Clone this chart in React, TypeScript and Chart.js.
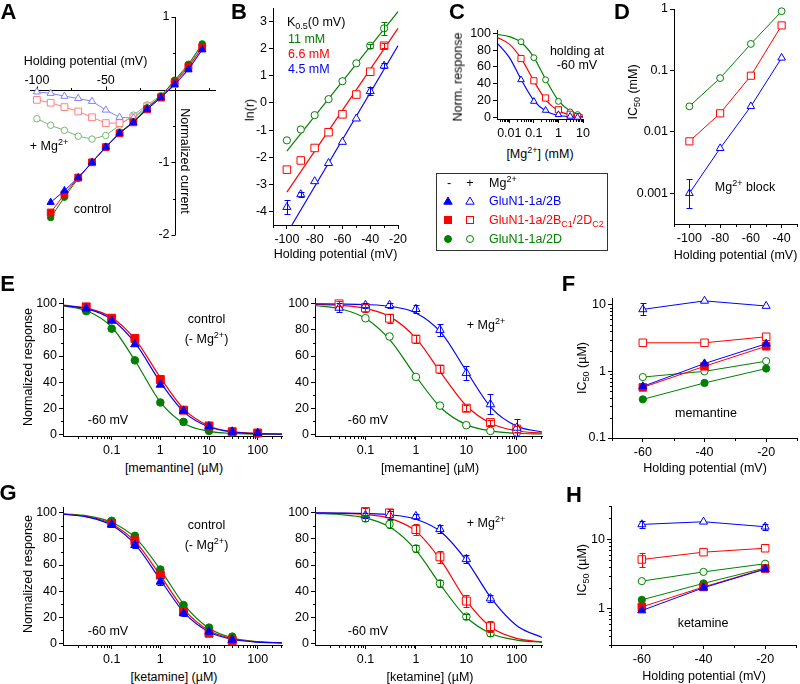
import React, { useEffect, useRef } from 'react';
import { Chart, registerables } from 'chart.js';

Chart.register(...registerables);

const FONT = "'Liberation Sans', Arial, Helvetica, sans-serif";
const FS = 12.5;
const BLUE = '#0000ff';
const RED = '#ff0000';
const GREEN = '#008000';
const LBLUE = '#8080ff';
const LRED = '#ff8080';
const LGREEN = '#74b874';

/* ---------------- Panel A : I-V ---------------- */
const A_V_CTRL = [-90, -80, -70, -60, -50, -40, -30, -20, -10, 0, 10, 20];
const A_2B_CTRL = [-1.55, -1.39, -1.21, -1.0, -0.79, -0.6, -0.45, -0.27, -0.11, 0.07, 0.28, 0.55];
const A_2BD_CTRL = [-1.69, -1.44, -1.21, -1.0, -0.79, -0.6, -0.45, -0.27, -0.11, 0.1, 0.32, 0.58];
const A_2D_CTRL = [-1.76, -1.48, -1.22, -1.0, -0.79, -0.59, -0.44, -0.25, -0.09, 0.13, 0.35, 0.63];
const A_V_MG = [-100, -90, -80, -70, -60, -50, -40, -30, -20, -10, 0, 10, 20];
const A_2B_MG = [-0.03, -0.05, -0.09, -0.12, -0.16, -0.28, -0.38, -0.39, -0.25, -0.1, 0.06, 0.27, 0.55];
const A_2BD_MG = [-0.14, -0.18, -0.24, -0.3, -0.38, -0.46, -0.46, -0.38, -0.23, -0.1, 0.09, 0.3, 0.58];
const A_2D_MG = [-0.4, -0.49, -0.56, -0.64, -0.68, -0.63, -0.49, -0.35, -0.21, -0.08, 0.12, 0.33, 0.62];
const A_X_TICKS = [-100, -50];
const A_X_LABELS = ['-100', '-50'];
const A_X_MINOR = [-75, -25, 25];
const A_Y_TICKS = [1, -1, -2];
const A_Y_LABELS = ['1', '-1', '-2'];
const A_Y_MINOR = [0.5, -0.5, -1.5];

/* ---------------- Panel B : ln(r) ---------------- */
const B_V = [-100, -90, -80, -70, -60, -50, -40, -30];
const B_2D = [-1.38, -0.98, -0.45, 0.14, 0.8, 1.46, 2.11, 2.75];
const B_2D_ERR = [0, 0, 0, 0, 0, 0, 0.08, 0.25];
const B_2BD = [-2.46, -2.12, -1.66, -1.08, -0.42, 0.31, 1.15, 2.11];
const B_2BD_ERR = [0, 0, 0, 0, 0, 0, 0, 0.1];
const B_2B = [-3.84, -3.37, -2.89, -2.22, -1.44, -0.58, 0.43, 1.37];
const B_2B_ERR = [0.25, 0.1, 0, 0, 0, 0, 0.15, 0.1];
const B_FIT_2D_V = [-100, -20];
const B_FIT_2D = [-1.78, 3.37];
const B_FIT_2BD_V = [-100, -20];
const B_FIT_2BD = [-3.29, 2.75];
const B_FIT_2B_V = [-96.4, -20];
const B_FIT_2B = [-4.5, 2.11];
const B_X_TICKS = [-100, -80, -60, -40, -20];
const B_X_LABELS = ['-100', '-80', '-60', '-40', '-20'];
const B_Y_TICKS = [-4, -3, -2, -1, 0, 1, 2, 3];
const B_Y_LABELS = ['-4', '-3', '-2', '-1', '0', '1', '2', '3'];

/* ---------------- Panel C : Mg dose-response ---------------- */
const C_X = [0.03, 0.1, 0.3, 1, 3, 6];
const C_2D = [90, 71, 44.7, 19, 6.4, 3.2];
const C_2BD = [70, 43.5, 23, 9, 3.6, 0.8];
const C_2B = [44.7, 19, 8.3, 3.2, 1.2, 0];
const C_FIT_X = [0.00316, 0.01, 0.0316, 0.1, 0.316, 1, 3.16, 10];
const C_2D_FIT = [98.75, 96.15, 88.77, 71.43, 44.15, 20, 7.33, 2.44];
const C_2BD_FIT = [95.29, 87.14, 69.41, 43.2, 20.3, 7.86, 2.78, 0.95];
const C_2B_FIT = [88.77, 71.43, 44.15, 20, 7.33, 2.44, 0.78, 0.25];
const C_X_TICKS = [0.01, 0.1, 1, 10];
const C_X_LABELS = ['0.01', '0.1', '1', '10'];
const C_Y_TICKS = [0, 20, 40, 60, 80, 100];
const C_Y_LABELS = ['0', '20', '40', '60', '80', '100'];

/* ---------------- Panel D : Mg IC50 ---------------- */
const D_V = [-100, -80, -60, -40];
const D_2D = [0.026, 0.075, 0.27, 0.92];
const D_2BD = [0.007, 0.02, 0.082, 0.54];
const D_2B = [0.001, 0.0054, 0.026, 0.16];
const D_2B_LO = [0.00057, null, null, null];
const D_2B_HI = [0.0017, null, null, null];
const D_X_TICKS = [-100, -80, -60, -40];
const D_X_LABELS = ['-100', '-80', '-60', '-40'];
const D_Y_TICKS = [0.001, 0.01, 0.1, 1];
const D_Y_LABELS = ['0.001', '0.01', '0.1', '1'];

/* ---------------- Panel E : memantine ---------------- */
const E_X = [0.03, 0.1, 0.3, 1, 3, 10, 30, 100];
const E_CTRL_2B = [96.4, 87, 69, 38, 18, 6, 2, 1];
const E_CTRL_2BD = [97.7, 89, 73.5, 42, 18.5, 6.4, 2, 1];
const E_CTRL_2D = [94.4, 81, 56.7, 24.4, 9.5, 2.6, 1.3, 0.6];
const E_MG_2B = [97, 99, 99, 96, 80, 47, 23, 5];
const E_MG_2B_ERR = [3.5, 2, 2, 3, 4.4, 5, 7.7, 6.4];
const E_MG_2BD = [100, 97, 89, 73, 50, 20, 9, 4];
const E_MG_2BD_ERR = [2, 3, 3.5, 3, 3, 2.5, 2, 2];
const E_MG_2D = [98.5, 89, 75, 44, 22, 7, 2.6, 1.3];
const FIT_X = [0.01, 0.0316, 0.1, 0.316, 1, 3.16, 10, 31.6, 100, 316];
const E_CTRL_2B_FIT = [98.82, 96.16, 88.2, 69.07, 40.0, 16.6, 5.61, 1.74, 0.53, 0.16];
const E_CTRL_2BD_FIT = [98.98, 96.67, 89.64, 72.08, 43.52, 18.71, 6.42, 2.01, 0.61, 0.18];
const E_CTRL_2D_FIT = [98.5, 94.58, 82.28, 55.27, 24.75, 8.04, 2.28, 0.62, 0.16, 0.04];
const E_MG_2B_FIT = [99.96, 99.86, 99.47, 98.04, 93.03, 78.0, 48.56, 20.1, 6.27, 1.75];
const E_MG_2BD_FIT = [99.64, 98.88, 96.55, 89.85, 73.69, 46.95, 21.87, 8.13, 2.72, 0.88];
const E_MG_2D_FIT = [98.77, 96.2, 88.89, 71.68, 44.44, 20.19, 7.41, 2.47, 0.79, 0.25];

/* ---------------- Panel G : ketamine ---------------- */
const G_X = [0.1, 0.3, 1, 3, 10, 30];
const G_CTRL_2B = [91, 75.3, 47.2, 23, 8.9, 2.6];
const G_CTRL_2B_ERR = [1.5, 2.5, 2.5, 2, 0, 0];
const G_CTRL_2BD = [91.8, 78.6, 52.3, 24.2, 7.7, 2];
const G_CTRL_2D = [93.9, 82.4, 56.6, 29.3, 12, 5.1];
const G_MG_2B = [98.2, 98.2, 97.4, 87.5, 64.5, 34.4];
const G_MG_2B_ERR = [2, 3, 2, 3, 3, 3];
const G_MG_2BD = [101, 100, 87.2, 66.3, 32.4, 12.8];
const G_MG_2BD_ERR = [3, 3, 4.5, 4.5, 4.7, 4];
const G_MG_2D = [95.7, 91.3, 72.7, 45.9, 20.4, 7.7];
const G_MG_2D_ERR = [2, 3, 3, 3, 2, 2];
const G_CTRL_2B_FIT = [98.96, 96.78, 90.48, 75.04, 48.73, 23.11, 8.68, 2.92, 0.94, 0.3];
const G_CTRL_2BD_FIT = [99.08, 97.15, 91.52, 77.33, 51.9, 25.44, 9.74, 3.3, 1.07, 0.34];
const G_CTRL_2D_FIT = [99.24, 97.63, 92.86, 80.43, 56.52, 29.14, 11.51, 3.95, 1.28, 0.41];
const G_MG_2B_FIT = [99.96, 99.86, 99.55, 98.5, 95.15, 85.4, 63.57, 34.21, 13.44, 4.43];
const G_MG_2BD_FIT = [99.9, 99.64, 98.72, 95.61, 86.0, 63.37, 32.77, 12.08, 3.73, 1.08];
const G_MG_2D_FIT = [99.6, 98.75, 96.15, 88.77, 71.43, 44.15, 20, 7.33, 2.44, 0.78];

const DR_X_TICKS = [0.1, 1, 10, 100];
const DR_X_LABELS = ['0.1', '1', '10', '100'];
const DR_Y_TICKS = [0, 20, 40, 60, 80, 100];
const DR_Y_LABELS = ['0', '20', '40', '60', '80', '100'];
const DR_Y_MINOR = [10, 30, 50, 70, 90];

/* ---------------- Panel F : memantine IC50 ---------------- */
const FH_V = [-60, -40, -20];
const F_2B_MG = [8.5, 11.4, 9.55];
const F_2B_MG_LO = [6.9, null, null];
const F_2B_MG_HI = [10.5, null, null];
const F_2BD_MG = [2.68, 2.68, 3.3];
const F_2B_CTRL = [0.594, 1.31, 2.59];
const F_2BD_CTRL = [0.574, 1.19, 2.38];
const F_2D_MG = [0.82, 1.0, 1.42];
const F_2D_CTRL = [0.38, 0.67, 1.1];
const F_Y_TICKS = [0.1, 1, 10];
const F_Y_LABELS = ['0.1', '1', '10'];

/* ---------------- Panel H : ketamine IC50 ---------------- */
const H_2B_MG = [16.3, 17.8, 15.1];
const H_2B_MG_LO = [14.5, null, 13.6];
const H_2B_MG_HI = [18.3, null, 16.8];
const H_2BD_MG = [5.1, 6.5, 7.4];
const H_2BD_MG_LO = [4.0, null, null];
const H_2BD_MG_HI = [6.4, null, null];
const H_2D_MG = [2.49, 3.38, 4.43];
const H_2D_CTRL = [1.34, 2.31, 3.85];
const H_2BD_CTRL = [1.06, 2.05, 3.77];
const H_2B_CTRL = [0.94, 2.0, 3.7];
const H_Y_TICKS = [1, 10];
const H_Y_LABELS = ['1', '10'];

const FH_X_TICKS = [-60, -40, -20];
const FH_X_LABELS = ['-60', '-40', '-20'];
const FH_X_MINOR = [-70, -50, -30, -10];

/* ---------------- layout ---------------- */
const ML = 50;
const MT = 12;
const MR = 14;
const MB = 24;

const RECT: Record<string, number[]> = {
  A: [30, 17, 216, 235],
  B: [273, 8, 398, 225],
  C: [497, 30, 583, 119],
  D: [674, 9, 797, 224],
  EL: [63, 298, 282, 436],
  ER: [315, 298, 542, 436],
  F: [612, 298, 797, 438],
  GL: [63, 507, 282, 645],
  GR: [315, 507, 542, 645],
  H: [611, 506, 796, 645],
};

function logMinor(lo: number, hi: number): number[] {
  const out: number[] = [];
  for (let e = Math.floor(Math.log10(lo)) - 1; e <= Math.ceil(Math.log10(hi)); e++) {
    for (let m = 2; m <= 9; m++) {
      const v = m * Math.pow(10, e);
      if (v >= lo * 0.999 && v <= hi * 1.001) out.push(v);
    }
  }
  return out;
}

const RAD: Record<string, number> = { circle: 3.8, rect: 5.6, triangle: 4.9 };

function pts(xs: number[], ys: number[]) {
  return xs.map((x, i) => ({ x, y: ys[i] }));
}
function pm(ys: number[], e: number[]) {
  return {
    errLo: ys.map((y, i) => (e[i] ? y - e[i] : null)),
    errHi: ys.map((y, i) => (e[i] ? y + e[i] : null)),
  };
}
function mk(xs: number[], ys: number[], color: string, style: string, filled: boolean, k = 1, line = false, extra: any = {}) {
  return {
    data: pts(xs, ys),
    showLine: line,
    borderColor: color,
    borderWidth: 1,
    tension: 0,
    pointStyle: style,
    pointRadius: RAD[style] * k,
    pointBorderColor: color,
    pointBorderWidth: 1,
    pointBackgroundColor: filled ? color : '#ffffff',
    backgroundColor: filled ? color : '#ffffff',
    clip: false,
    fill: false,
    ...extra,
  };
}
function fitLine(xs: number[], ys: number[], color: string) {
  return {
    data: pts(xs, ys),
    showLine: true,
    borderColor: color,
    borderWidth: 1.2,
    pointRadius: 0,
    cubicInterpolationMode: 'monotone',
    clip: false,
    fill: false,
  };
}
function straight(xs: number[], ys: number[], color: string) {
  return { data: pts(xs, ys), showLine: true, borderColor: color, borderWidth: 1.2, pointRadius: 0, tension: 0, clip: false, fill: false };
}

const errorBarsPlugin = {
  id: 'errorBars',
  afterDatasetsDraw(chart: any) {
    const { ctx } = chart;
    const xs = chart.scales.x;
    const ys = chart.scales.y;
    chart.data.datasets.forEach((ds: any) => {
      if (!ds.errLo) return;
      ctx.save();
      ctx.strokeStyle = ds.borderColor;
      ctx.lineWidth = 1;
      ctx.beginPath();
      ds.data.forEach((p: any, i: number) => {
        const lo = ds.errLo[i];
        const hi = ds.errHi[i];
        if (lo == null || hi == null) return;
        const px = Math.round(xs.getPixelForValue(p.x)) + 0.5;
        const y1 = Math.round(ys.getPixelForValue(lo)) + 0.5;
        const y2 = Math.round(ys.getPixelForValue(hi)) + 0.5;
        ctx.moveTo(px, y1);
        ctx.lineTo(px, y2);
        ctx.moveTo(px - 3, y1);
        ctx.lineTo(px + 3, y1);
        ctx.moveTo(px - 3, y2);
        ctx.lineTo(px + 3, y2);
      });
      ctx.stroke();
      ctx.restore();
    });
  },
};

function minorPlugin(mx: number[], my: number[]) {
  return {
    id: 'minorTicks',
    afterDraw(chart: any) {
      const { ctx, chartArea: ca } = chart;
      const xs = chart.scales.x;
      const ys = chart.scales.y;
      ctx.save();
      ctx.strokeStyle = '#000';
      ctx.lineWidth = 1;
      ctx.beginPath();
      const by = Math.round(ca.bottom) + 0.5;
      const lx = Math.round(ca.left) + 0.5;
      mx.forEach((v) => {
        const px = Math.round(xs.getPixelForValue(v)) + 0.5;
        if (px < ca.left - 1 || px > ca.right + 1) return;
        ctx.moveTo(px, by);
        ctx.lineTo(px, by + 2.5);
      });
      my.forEach((v) => {
        const py = Math.round(ys.getPixelForValue(v)) + 0.5;
        if (py < ca.top - 1 || py > ca.bottom + 1) return;
        ctx.moveTo(lx - 2.5, py);
        ctx.lineTo(lx, py);
      });
      ctx.stroke();
      ctx.restore();
    },
  };
}

const axesAPlugin = {
  id: 'axesA',
  beforeDatasetsDraw(chart: any) {
    const { ctx, chartArea: ca } = chart;
    const xs = chart.scales.x;
    const ys = chart.scales.y;
    const x0 = Math.round(xs.getPixelForValue(0)) + 0.5;
    const y0 = Math.round(ys.getPixelForValue(0)) + 0.5;
    ctx.save();
    ctx.strokeStyle = '#000';
    ctx.lineWidth = 1;
    ctx.beginPath();
    ctx.moveTo(ca.left, y0);
    ctx.lineTo(ca.right, y0);
    ctx.moveTo(x0, ca.top);
    ctx.lineTo(x0, ca.bottom);
    A_X_TICKS.forEach((v) => {
      const px = Math.round(xs.getPixelForValue(v)) + 0.5;
      ctx.moveTo(px, y0);
      ctx.lineTo(px, y0 - 4);
    });
    A_X_MINOR.forEach((v) => {
      const px = Math.round(xs.getPixelForValue(v)) + 0.5;
      ctx.moveTo(px, y0);
      ctx.lineTo(px, y0 - 2.5);
    });
    A_Y_TICKS.forEach((v) => {
      const py = Math.round(ys.getPixelForValue(v)) + 0.5;
      ctx.moveTo(x0 - 4, py);
      ctx.lineTo(x0, py);
    });
    A_Y_MINOR.forEach((v) => {
      const py = Math.round(ys.getPixelForValue(v)) + 0.5;
      ctx.moveTo(x0 - 2.5, py);
      ctx.lineTo(x0, py);
    });
    ctx.stroke();
    ctx.fillStyle = '#000';
    ctx.font = `${FS}px ${FONT}`;
    ctx.textBaseline = 'middle';
    ctx.textAlign = 'center';
    A_X_TICKS.forEach((v, i) => ctx.fillText(A_X_LABELS[i], xs.getPixelForValue(v), y0 - 10));
    ctx.textAlign = 'right';
    A_Y_TICKS.forEach((v, i) => ctx.fillText(A_Y_LABELS[i], x0 - 6, ys.getPixelForValue(v)));
    ctx.restore();
  },
};

type Axis = { type: string; min: number; max: number; ticks: number[]; labels: string[]; minor?: number[] };
type Panel = { id: string; hide?: boolean; x: Axis; y: Axis; datasets: any[]; extra?: any };

function scaleOpts(ax: Axis, isX: boolean, hide: boolean) {
  const o: any = {
    type: ax.type,
    min: ax.min,
    max: ax.max,
    display: !hide,
    position: isX ? 'bottom' : 'left',
    bounds: 'data',
    offset: false,
    afterBuildTicks: (s: any) => {
      s.ticks = ax.ticks.map((v) => ({ value: v }));
    },
    grid: { display: true, drawOnChartArea: false, drawTicks: true, tickLength: 4, color: '#000', lineWidth: 1 },
    border: { display: true, color: '#000', width: 1 },
    ticks: {
      autoSkip: false,
      maxRotation: 0,
      minRotation: 0,
      padding: isX ? 3 : 2,
      color: '#000',
      font: { family: FONT, size: FS },
      callback: (_v: any, i: number) => ax.labels[i],
    },
    title: { display: false },
  };
  if (!hide) {
    o.afterFit = (s: any) => {
      if (isX) s.height = MB;
      else s.width = ML;
    };
  }
  return o;
}

function buildConfig(p: Panel): any {
  const hide = !!p.hide;
  const plugins: any[] = [errorBarsPlugin];
  if (!hide) plugins.push(minorPlugin(p.x.minor || [], p.y.minor || []));
  if (p.extra) plugins.push(p.extra);
  return {
    type: 'line',
    data: { datasets: p.datasets },
    options: {
      responsive: false,
      maintainAspectRatio: false,
      animation: false,
      devicePixelRatio: 1,
      events: [],
      layout: {
        autoPadding: false,
        padding: hide ? { left: ML, top: MT, right: MR, bottom: MB } : { left: 0, top: MT, right: MR, bottom: 0 },
      },
      plugins: { legend: { display: false }, tooltip: { enabled: false }, title: { display: false } },
      scales: { x: scaleOpts(p.x, true, hide), y: scaleOpts(p.y, false, hide) },
    },
    plugins,
  };
}

const LIN = 'linear';
const LOG = 'logarithmic';

const PANELS: Panel[] = [
  {
    id: 'A',
    hide: true,
    extra: axesAPlugin,
    x: { type: LIN, min: -105, max: 30, ticks: [], labels: [] },
    y: { type: LIN, min: -2, max: 1, ticks: [], labels: [] },
    datasets: [
      mk(A_V_CTRL, A_2B_CTRL, BLUE, 'triangle', true, 0.85, true),
      mk(A_V_CTRL, A_2BD_CTRL, RED, 'rect', true, 0.85, true),
      mk(A_V_CTRL, A_2D_CTRL, GREEN, 'circle', true, 0.85, true),
      mk(A_V_MG, A_2B_MG, LBLUE, 'triangle', false, 0.85, true),
      mk(A_V_MG, A_2BD_MG, LRED, 'rect', false, 0.85, true),
      mk(A_V_MG, A_2D_MG, LGREEN, 'circle', false, 0.85, true),
    ],
  },
  {
    id: 'B',
    x: { type: LIN, min: -110, max: -20, ticks: B_X_TICKS, labels: B_X_LABELS, minor: [-110, -90, -70, -50, -30] },
    y: { type: LIN, min: -4.5, max: 3.5, ticks: B_Y_TICKS, labels: B_Y_LABELS },
    datasets: [
      mk(B_V, B_2D, GREEN, 'circle', false, 0.95, false, pm(B_2D, B_2D_ERR)),
      mk(B_V, B_2BD, RED, 'rect', false, 0.95, false, pm(B_2BD, B_2BD_ERR)),
      mk(B_V, B_2B, BLUE, 'triangle', false, 0.95, false, pm(B_2B, B_2B_ERR)),
      straight(B_FIT_2D_V, B_FIT_2D, GREEN),
      straight(B_FIT_2BD_V, B_FIT_2BD, RED),
      straight(B_FIT_2B_V, B_FIT_2B, BLUE),
    ],
  },
  {
    id: 'C',
    x: { type: LOG, min: 0.00316, max: 10, ticks: C_X_TICKS, labels: C_X_LABELS, minor: logMinor(0.00316, 10) },
    y: { type: LIN, min: -2, max: 104, ticks: C_Y_TICKS, labels: C_Y_LABELS },
    datasets: [
      mk(C_X, C_2B, BLUE, 'triangle', false, 0.78),
      mk(C_X, C_2BD, RED, 'rect', false, 0.78),
      mk(C_X, C_2D, GREEN, 'circle', false, 0.78),
      fitLine(C_FIT_X, C_2B_FIT, BLUE),
      fitLine(C_FIT_X, C_2BD_FIT, RED),
      fitLine(C_FIT_X, C_2D_FIT, GREEN),
    ],
  },
  {
    id: 'D',
    x: { type: LIN, min: -110, max: -30, ticks: D_X_TICKS, labels: D_X_LABELS, minor: [-110, -90, -70, -50, -30] },
    y: { type: LOG, min: 0.000316, max: 1, ticks: D_Y_TICKS, labels: D_Y_LABELS },
    datasets: [
      mk(D_V, D_2B, BLUE, 'triangle', false, 0.9, true, { errLo: D_2B_LO, errHi: D_2B_HI }),
      mk(D_V, D_2BD, RED, 'rect', false, 0.9, true),
      mk(D_V, D_2D, GREEN, 'circle', false, 0.9, true),
    ],
  },
  {
    id: 'EL',
    x: { type: LOG, min: 0.01, max: 316.2, ticks: DR_X_TICKS, labels: DR_X_LABELS, minor: logMinor(0.01, 316.2) },
    y: { type: LIN, min: -1.3, max: 104.5, ticks: DR_Y_TICKS, labels: DR_Y_LABELS, minor: DR_Y_MINOR },
    datasets: [
      mk(E_X, E_CTRL_2B, BLUE, 'triangle', true),
      mk(E_X, E_CTRL_2BD, RED, 'rect', true),
      mk(E_X, E_CTRL_2D, GREEN, 'circle', true),
      fitLine(FIT_X, E_CTRL_2B_FIT, BLUE),
      fitLine(FIT_X, E_CTRL_2BD_FIT, RED),
      fitLine(FIT_X, E_CTRL_2D_FIT, GREEN),
    ],
  },
  {
    id: 'ER',
    x: { type: LOG, min: 0.01, max: 316.2, ticks: DR_X_TICKS, labels: DR_X_LABELS, minor: logMinor(0.01, 316.2) },
    y: { type: LIN, min: -1.3, max: 104.5, ticks: DR_Y_TICKS, labels: DR_Y_LABELS, minor: DR_Y_MINOR },
    datasets: [
      mk(E_X, E_MG_2B, BLUE, 'triangle', false, 1, false, pm(E_MG_2B, E_MG_2B_ERR)),
      mk(E_X, E_MG_2BD, RED, 'rect', false, 1, false, pm(E_MG_2BD, E_MG_2BD_ERR)),
      mk(E_X, E_MG_2D, GREEN, 'circle', false),
      fitLine(FIT_X, E_MG_2B_FIT, BLUE),
      fitLine(FIT_X, E_MG_2BD_FIT, RED),
      fitLine(FIT_X, E_MG_2D_FIT, GREEN),
    ],
  },
  {
    id: 'F',
    x: { type: LIN, min: -70, max: -10, ticks: FH_X_TICKS, labels: FH_X_LABELS, minor: FH_X_MINOR },
    y: { type: LOG, min: 0.1, max: 12.59, ticks: F_Y_TICKS, labels: F_Y_LABELS, minor: logMinor(0.1, 12.59) },
    datasets: [
      mk(FH_V, F_2B_CTRL, BLUE, 'triangle', true, 0.95, true),
      mk(FH_V, F_2BD_CTRL, RED, 'rect', true, 0.95, true),
      mk(FH_V, F_2D_CTRL, GREEN, 'circle', true, 0.95, true),
      mk(FH_V, F_2B_MG, BLUE, 'triangle', false, 0.95, true, { errLo: F_2B_MG_LO, errHi: F_2B_MG_HI }),
      mk(FH_V, F_2BD_MG, RED, 'rect', false, 0.95, true),
      mk(FH_V, F_2D_MG, GREEN, 'circle', false, 0.95, true),
    ],
  },
  {
    id: 'GL',
    x: { type: LOG, min: 0.01, max: 316.2, ticks: DR_X_TICKS, labels: DR_X_LABELS, minor: logMinor(0.01, 316.2) },
    y: { type: LIN, min: -1.3, max: 104.5, ticks: DR_Y_TICKS, labels: DR_Y_LABELS, minor: DR_Y_MINOR },
    datasets: [
      mk(G_X, G_CTRL_2B, BLUE, 'triangle', true, 1, false, pm(G_CTRL_2B, G_CTRL_2B_ERR)),
      mk(G_X, G_CTRL_2BD, RED, 'rect', true),
      mk(G_X, G_CTRL_2D, GREEN, 'circle', true),
      fitLine(FIT_X, G_CTRL_2B_FIT, BLUE),
      fitLine(FIT_X, G_CTRL_2BD_FIT, RED),
      fitLine(FIT_X, G_CTRL_2D_FIT, GREEN),
    ],
  },
  {
    id: 'GR',
    x: { type: LOG, min: 0.01, max: 316.2, ticks: DR_X_TICKS, labels: DR_X_LABELS, minor: logMinor(0.01, 316.2) },
    y: { type: LIN, min: -1.3, max: 104.5, ticks: DR_Y_TICKS, labels: DR_Y_LABELS, minor: DR_Y_MINOR },
    datasets: [
      mk(G_X, G_MG_2B, BLUE, 'triangle', false, 1, false, pm(G_MG_2B, G_MG_2B_ERR)),
      mk(G_X, G_MG_2BD, RED, 'rect', false, 1, false, pm(G_MG_2BD, G_MG_2BD_ERR)),
      mk(G_X, G_MG_2D, GREEN, 'circle', false, 1, false, pm(G_MG_2D, G_MG_2D_ERR)),
      fitLine(FIT_X, G_MG_2B_FIT, BLUE),
      fitLine(FIT_X, G_MG_2BD_FIT, RED),
      fitLine(FIT_X, G_MG_2D_FIT, GREEN),
    ],
  },
  {
    id: 'H',
    x: { type: LIN, min: -70, max: -10, ticks: FH_X_TICKS, labels: FH_X_LABELS, minor: FH_X_MINOR },
    y: { type: LOG, min: 0.3, max: 30, ticks: H_Y_TICKS, labels: H_Y_LABELS, minor: logMinor(0.3, 30) },
    datasets: [
      mk(FH_V, H_2B_CTRL, BLUE, 'triangle', true, 0.95, true),
      mk(FH_V, H_2BD_CTRL, RED, 'rect', true, 0.95, true),
      mk(FH_V, H_2D_CTRL, GREEN, 'circle', true, 0.95, true),
      mk(FH_V, H_2B_MG, BLUE, 'triangle', false, 0.95, true, { errLo: H_2B_MG_LO, errHi: H_2B_MG_HI }),
      mk(FH_V, H_2BD_MG, RED, 'rect', false, 0.95, true, { errLo: H_2BD_MG_LO, errHi: H_2BD_MG_HI }),
      mk(FH_V, H_2D_MG, GREEN, 'circle', false, 0.95, true),
    ],
  },
];

function PanelChart({ p }: { p: Panel }) {
  const ref = useRef<HTMLCanvasElement | null>(null);
  const r = RECT[p.id];
  const w = r[2] - r[0] + ML + MR;
  const h = r[3] - r[1] + MT + MB;
  useEffect(() => {
    const chart = new Chart(ref.current as HTMLCanvasElement, buildConfig(p));
    return () => chart.destroy();
  }, []);
  return (
    <canvas
      ref={ref}
      width={w}
      height={h}
      style={{ position: 'absolute', left: r[0] - ML, top: r[1] - MT, width: w, height: h }}
    />
  );
}

const Sup = ({ children }: any) => (
  <span style={{ fontSize: '0.72em', position: 'relative', top: '-0.55em' }}>{children}</span>
);
const Sub = ({ children }: any) => (
  <span style={{ fontSize: '0.72em', position: 'relative', top: '0.3em' }}>{children}</span>
);

function Txt({ x, y, children, color = '#000', size = FS, bold = false, rot = 0, anchor = 'middle' }: any) {
  const tx = anchor === 'start' ? '0%' : anchor === 'end' ? '-100%' : '-50%';
  return (
    <div
      style={{
        position: 'absolute',
        left: x,
        top: y,
        transform: `translate(${tx}, -50%) rotate(${rot}deg)`,
        whiteSpace: 'nowrap',
        fontFamily: FONT,
        fontSize: size,
        fontWeight: bold ? 700 : 400,
        color,
        lineHeight: 1,
      }}
    >
      {children}
    </div>
  );
}

function Sym({ x, y, shape, color, filled }: any) {
  const f = filled ? color : '#ffffff';
  let el: any = null;
  if (shape === 'triangle') el = <polygon points="6,2 10.2,9.2 1.8,9.2" fill={f} stroke={color} strokeWidth={1} />;
  else if (shape === 'rect') el = <rect x={2.5} y={2.5} width={7} height={7} fill={f} stroke={color} strokeWidth={1} />;
  else el = <circle cx={6} cy={6} r={3.5} fill={f} stroke={color} strokeWidth={1} />;
  return (
    <svg width={12} height={12} style={{ position: 'absolute', left: x - 6, top: y - 6, overflow: 'visible' }}>
      {el}
    </svg>
  );
}

export default function App() {
  const L = 22;
  return (
    <div
      style={{
        position: 'absolute',
        left: 0,
        top: 0,
        width: 800,
        height: 684,
        background: '#ffffff',
        overflow: 'hidden',
        fontFamily: FONT,
      }}
    >
      {PANELS.map((p) => (
        <PanelChart key={p.id} p={p} />
      ))}

      {/* panel letters */}
      <Txt x={8.5} y={12} size={L} bold>A</Txt>
      <Txt x={239} y={12} size={L} bold>B</Txt>
      <Txt x={457} y={12} size={L} bold>C</Txt>
      <Txt x={622} y={12} size={L} bold>D</Txt>
      <Txt x={7.5} y={284} size={L} bold>E</Txt>
      <Txt x={568.5} y={284} size={L} bold>F</Txt>
      <Txt x={8} y={493} size={L} bold>G</Txt>
      <Txt x={574} y={495} size={L} bold>H</Txt>

      {/* A */}
      <Txt x={85.5} y={61}>Holding potential (mV)</Txt>
      <Txt x={185} y={161} rot={90}>Normalized current</Txt>
      <Txt x={49} y={146}>+ Mg<Sup>2+</Sup></Txt>
      <Txt x={92.5} y={209}>control</Txt>

      {/* B */}
      <Txt x={287} y={22} anchor="start">K<Sub>0.5</Sub>(0 mV)</Txt>
      <Txt x={288} y={38.5} anchor="start" color={GREEN}>11 mM</Txt>
      <Txt x={288} y={53.5} anchor="start" color={RED}>6.6 mM</Txt>
      <Txt x={288} y={68.5} anchor="start" color={BLUE}>4.5 mM</Txt>
      <Txt x={250} y={110} rot={-90}>ln(r)</Txt>
      <Txt x={335.5} y={254}>Holding potential (mV)</Txt>

      {/* C */}
      <Txt x={458} y={77} rot={-90}>Norm. response</Txt>
      <Txt x={540} y={154}>[Mg<Sup>2+</Sup>] (mM)</Txt>
      <Txt x={577} y={51}>holding at</Txt>
      <Txt x={577} y={65}>-60 mV</Txt>

      {/* D */}
      <Txt x={633} y={92} rot={-90}>IC<Sub>50</Sub> (mM)</Txt>
      <Txt x={735.5} y={255}>Holding potential (mV)</Txt>
      <Txt x={745} y={187}>Mg<Sup>2+</Sup> block</Txt>

      {/* legend box */}
      <div style={{ position: 'absolute', left: 436, top: 173, width: 172, height: 78, border: '1px solid #333', boxSizing: 'border-box' }} />
      <Txt x={449} y={183}>-</Txt>
      <Txt x={470} y={183}>+</Txt>
      <Txt x={489} y={183} anchor="start">Mg<Sup>2+</Sup></Txt>
      <Sym x={448} y={201} shape="triangle" color={BLUE} filled />
      <Sym x={470} y={201} shape="triangle" color={BLUE} />
      <Txt x={489} y={201} anchor="start" color={BLUE}>GluN1-1a/2B</Txt>
      <Sym x={448} y={220} shape="rect" color={RED} filled />
      <Sym x={470} y={220} shape="rect" color={RED} />
      <Txt x={489} y={220} anchor="start" color={RED}>GluN1-1a/2B<Sub>C1</Sub>/2D<Sub>C2</Sub></Txt>
      <Sym x={448} y={239} shape="circle" color={GREEN} filled />
      <Sym x={470} y={239} shape="circle" color={GREEN} />
      <Txt x={489} y={239} anchor="start" color={GREEN}>GluN1-1a/2D</Txt>

      {/* E */}
      <Txt x={28} y={367} rot={-90}>Normalized response</Txt>
      <Txt x={174} y={468}>[memantine] (µM)</Txt>
      <Txt x={206.5} y={319}>control</Txt>
      <Txt x={206.5} y={339}>(- Mg<Sup>2+</Sup>)</Txt>
      <Txt x={108} y={420}>-60 mV</Txt>
      <Txt x={430} y={468}>[memantine] (µM)</Txt>
      <Txt x={486} y={325}>+ Mg<Sup>2+</Sup></Txt>
      <Txt x={368} y={420}>-60 mV</Txt>

      {/* F */}
      <Txt x={581.5} y={368} rot={-90}>IC<Sub>50</Sub> (µM)</Txt>
      <Txt x={705} y={468}>Holding potential (mV)</Txt>
      <Txt x={706} y={413}>memantine</Txt>

      {/* G */}
      <Txt x={28} y={574} rot={-90}>Normalized response</Txt>
      <Txt x={174} y={677}>[ketamine] (µM)</Txt>
      <Txt x={206.5} y={525}>control</Txt>
      <Txt x={206.5} y={545}>(- Mg<Sup>2+</Sup>)</Txt>
      <Txt x={108} y={631}>-60 mV</Txt>
      <Txt x={430} y={677}>[ketamine] (µM)</Txt>
      <Txt x={486} y={523}>+ Mg<Sup>2+</Sup></Txt>
      <Txt x={368} y={631}>-60 mV</Txt>

      {/* H */}
      <Txt x={581.5} y={570} rot={-90}>IC<Sub>50</Sub> (µM)</Txt>
      <Txt x={704} y={676}>Holding potential (mV)</Txt>
      <Txt x={703} y={623}>ketamine</Txt>
    </div>
  );
}
